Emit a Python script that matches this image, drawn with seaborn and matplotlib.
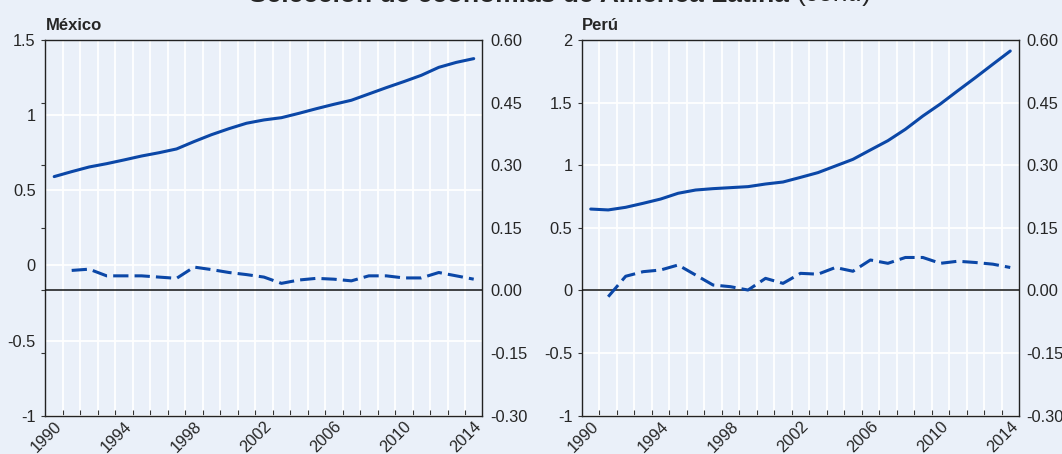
import matplotlib
matplotlib.use("Agg")
import matplotlib.pyplot as plt
from matplotlib.ticker import FixedLocator, NullFormatter
import seaborn as sns
import pandas as pd

# -----------------------------
# Data
# -----------------------------
years = list(range(1990, 2015))

mexico_solid = [0.591, 0.624, 0.655, 0.677, 0.702, 0.728, 0.750, 0.775, 0.824, 0.870,
                0.910, 0.946, 0.968, 0.983, 1.012, 1.043, 1.072, 1.099, 1.141, 1.183,
                1.223, 1.265, 1.318, 1.351, 1.376]
mexico_dashed = [None, 0.048, 0.051, 0.035, 0.035, 0.035, 0.032, 0.029, 0.056, 0.050,
                 0.043, 0.038, 0.032, 0.017, 0.025, 0.029, 0.027, 0.023, 0.035, 0.035,
                 0.030, 0.030, 0.043, 0.035, 0.027]

peru_solid = [0.650, 0.643, 0.664, 0.696, 0.730, 0.776, 0.802, 0.813, 0.821, 0.829,
              0.850, 0.866, 0.903, 0.941, 0.994, 1.047, 1.122, 1.196, 1.287, 1.393,
              1.489, 1.595, 1.699, 1.806, 1.912]
peru_dashed = [None, -0.015, 0.034, 0.045, 0.049, 0.061, 0.037, 0.013, 0.009, 0.001,
               0.029, 0.017, 0.041, 0.039, 0.055, 0.046, 0.073, 0.065, 0.079, 0.079,
               0.065, 0.070, 0.067, 0.063, 0.055]

mexico_left_ticks = [-1, -0.5, 0, 0.5, 1, 1.5]
mexico_left_labels = ["-1", "-0.5", "0", "0.5", "1", "1.5"]
peru_left_ticks = [-1, -0.5, 0, 0.5, 1, 1.5, 2]
peru_left_labels = ["-1", "-0.5", "0", "0.5", "1", "1.5", "2"]
right_ticks = [-0.30, -0.15, 0.00, 0.15, 0.30, 0.45, 0.60]
right_labels = ["-0.30", "-0.15", "0.00", "0.15", "0.30", "0.45", "0.60"]
year_labels = [1990, 1994, 1998, 2002, 2006, 2010, 2014]

title_bold = "Selección de economías de América Latina"
title_rest = "(cont.)"

# -----------------------------
# Style
# -----------------------------
BG = "#eaf0f9"
BLUE = "#0b47a7"
FS = 11.8

sns.set_theme(style="white")
plt.rcParams["font.family"] = ["Liberation Sans", "DejaVu Sans"]
plt.rcParams["axes.unicode_minus"] = False

fig = plt.figure(figsize=(10.62, 4.54), dpi=100)
fig.patch.set_facecolor(BG)


def draw_panel(rect, name, solid, dashed, lticks, llabels):
    ax = fig.add_axes(rect)
    ax.set_facecolor(BG)
    df = pd.DataFrame({"year": years, "solid": solid, "dashed": dashed})

    sns.lineplot(data=df, x="year", y="solid", ax=ax, color=BLUE, lw=2.2)
    ax.set_xlim(1989.5, 2014.5)
    ax.set_ylim(lticks[0], lticks[-1])
    ax.set_yticks(lticks)
    ax.set_yticklabels(llabels)
    ax.set_xticks(year_labels)
    ax.set_xticklabels([str(y) for y in year_labels], rotation=45, ha="right",
                       rotation_mode="anchor")
    ax.xaxis.set_minor_locator(FixedLocator([y + 0.5 for y in years[:-1]]))
    ax.xaxis.set_minor_formatter(NullFormatter())
    ax.tick_params(axis="x", which="major", length=0, labelsize=FS, pad=2)
    ax.tick_params(axis="x", which="minor", direction="in", length=4, width=0.8,
                   color="#333333", bottom=True)
    ax.tick_params(axis="y", which="major", length=0, labelsize=FS, pad=7)
    ax.grid(True, axis="y", which="major", color="white", lw=1.3)
    ax.grid(True, axis="x", which="minor", color="white", lw=1.3)
    ax.set_xlabel("")
    ax.set_ylabel("")
    for s in ax.spines.values():
        s.set_color("#222222")
        s.set_linewidth(1.0)

    ax2 = ax.twinx()
    ax2.set_ylim(right_ticks[0], right_ticks[-1])
    ax2.axhline(0, color="#111111", lw=1.1, zorder=1)
    sns.lineplot(data=df, x="year", y="dashed", ax=ax2, color=BLUE, lw=2.2)
    ax2.lines[-1].set_dashes((5, 2))
    ax2.set_yticks(right_ticks)
    ax2.set_yticklabels(right_labels)
    ax2.set_ylabel("")
    ax2.set_xlim(1989.5, 2014.5)
    ax2.tick_params(axis="y", left=True, right=False, labelleft=False, labelright=True,
                    direction="out", length=3, width=0.8, color="#333333",
                    labelsize=FS, pad=2.5)
    for s in ax2.spines.values():
        s.set_visible(False)

    ax.text(0.0, 1.027, name, transform=ax.transAxes, fontsize=12,
            fontweight="bold", ha="left", va="baseline")
    return ax, ax2


draw_panel([0.0428, 0.0844, 0.4115, 0.8275], "México",
           mexico_solid, mexico_dashed, mexico_left_ticks, mexico_left_labels)
draw_panel([0.548, 0.0844, 0.4115, 0.8275], "Perú",
           peru_solid, peru_dashed, peru_left_ticks, peru_left_labels)

# title sits mostly above the figure edge, as in the source
ty = 1 - 1.5 / 454
t1 = fig.text(249 / 1062, ty, title_bold, fontsize=19, fontweight="bold",
              ha="left", va="baseline")
renderer = fig.canvas.get_renderer()
bb = t1.get_window_extent(renderer)
fig.text((bb.x1 + 8) / 1062, ty, title_rest, fontsize=19, ha="left", va="baseline")

fig.savefig("out.png", dpi=100, facecolor=BG)
